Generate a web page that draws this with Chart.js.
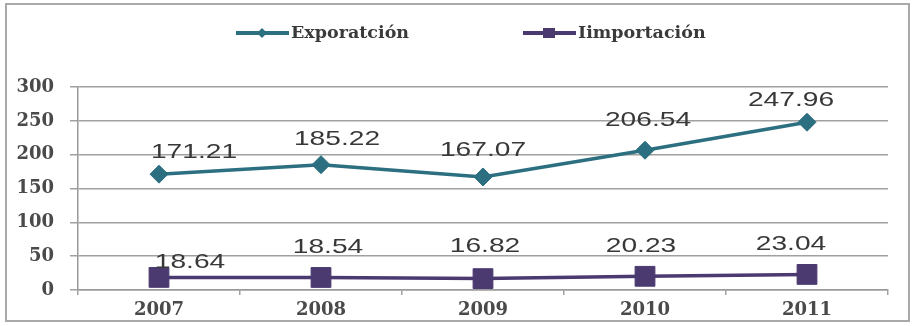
<!DOCTYPE html>
<html>
<head>
<meta charset="utf-8">
<script src="https://cdn.jsdelivr.net/npm/chart.js@4.4.1/dist/chart.umd.min.js"></script>
<style>
  html, body { margin: 0; padding: 0; background: #fff; }
  #wrap { width: 921px; height: 326px; }
</style>
</head>
<body>
<div id="wrap"><canvas id="c" width="921" height="326"></canvas></div>
<script>
const years = ['2007', '2008', '2009', '2010', '2011'];
const exportacion = [171.21, 185.22, 167.07, 206.54, 247.96];
const importacion = [18.64, 18.54, 16.82, 20.23, 23.04];
const seriesNames = ['Exporatción', 'Iimportación'];
const yTicks = [0, 50, 100, 150, 200, 250, 300];

const EXP_COLOR = '#2b6f80';
const IMP_COLOR = '#4a3a70';

// label nudges (styling only), [dx, dy] from each point to label centre
const labelNudge = [
  [[35, -22], [16, -25], [0, -27], [3, -30], [-16, -22]],
  [[31, -15], [7, -30], [2, -32], [-4, -30], [-16, -30]]
];

const framePlugin = {
  id: 'frame',
  beforeDraw(chart) {
    const ctx = chart.ctx;
    ctx.save();
    ctx.fillStyle = '#fff';
    ctx.fillRect(0, 0, chart.width, chart.height);
    ctx.strokeStyle = '#a9a9a9';
    ctx.lineWidth = 2;
    ctx.strokeRect(6, 4, 903, 317);
    ctx.restore();
  }
};

const legendPlugin = {
  id: 'customLegend',
  afterDraw(chart) {
    const ctx = chart.ctx;
    const items = [
      { x: 236, color: EXP_COLOR, style: 'diamond' },
      { x: 523, color: IMP_COLOR, style: 'square' }
    ];
    const y = 33;
    ctx.save();
    items.forEach((it, i) => {
      ctx.strokeStyle = it.color;
      ctx.lineWidth = 4;
      ctx.beginPath();
      ctx.moveTo(it.x, y);
      ctx.lineTo(it.x + 53, y);
      ctx.stroke();
      ctx.fillStyle = it.color;
      const cx = it.x + 26;
      ctx.beginPath();
      if (it.style === 'diamond') {
        ctx.moveTo(cx - 5, y); ctx.lineTo(cx, y - 5); ctx.lineTo(cx + 5, y); ctx.lineTo(cx, y + 5);
      } else {
        ctx.rect(cx - 6, y - 5, 12, 10);
      }
      ctx.closePath();
      ctx.fill();
      ctx.fillStyle = '#3a3a3a';
      ctx.font = 'bold 17.5px "DejaVu Serif"';
      ctx.textBaseline = 'middle';
      ctx.textAlign = 'left';
      ctx.fillText(chart.data.datasets[i].label, it.x + 55, y);
    });
    ctx.restore();
  }
};

const valueLabelPlugin = {
  id: 'valueLabels',
  afterDatasetsDraw(chart) {
    const ctx = chart.ctx;
    ctx.save();
    ctx.font = '21px "Liberation Sans", Arial, sans-serif';
    ctx.fillStyle = '#383838';
    ctx.textAlign = 'center';
    ctx.textBaseline = 'middle';
    const sx = 1.34;
    chart.data.datasets.forEach((ds, di) => {
      const meta = chart.getDatasetMeta(di);
      meta.data.forEach((pt, i) => {
        const n = labelNudge[di][i];
        const cx = pt.x + n[0];
        const cy = pt.y + n[1];
        ctx.save();
        ctx.translate(cx, cy);
        ctx.scale(sx, 1);
        ctx.fillText(ds.data[i].toFixed(2), 0, 0);
        ctx.restore();
      });
    });
    ctx.restore();
  }
};

new Chart(document.getElementById('c'), {
  type: 'line',
  data: {
    labels: years,
    datasets: [
      {
        label: seriesNames[0],
        data: exportacion,
        borderColor: EXP_COLOR,
        backgroundColor: EXP_COLOR,
        borderWidth: 3.5,
        pointStyle: 'rectRot',
        pointRadius: 9,
        pointBorderWidth: 1,
        tension: 0
      },
      {
        label: seriesNames[1],
        data: importacion,
        borderColor: IMP_COLOR,
        backgroundColor: IMP_COLOR,
        borderWidth: 3.5,
        pointStyle: 'rect',
        pointRadius: 14,
        pointBorderWidth: 1,
        tension: 0
      }
    ]
  },
  options: {
    responsive: false,
    animation: false,
    layout: { padding: { left: 8, right: 33, top: 87, bottom: 0 } },
    plugins: {
      legend: { display: false },
      tooltip: { enabled: false }
    },
    scales: {
      x: {
        offset: true,
        grid: { display: true, drawOnChartArea: false, drawTicks: true, tickLength: 5, color: '#a0a0a0', lineWidth: 1.5, offset: true },
        border: { display: true, color: '#9a9a9a', width: 1.5 },
        ticks: { padding: 5, color: '#4a4a4a', font: { family: '"DejaVu Serif"', weight: 'bold', size: 18 } },
        afterFit(s) { s.height = 36; }
      },
      y: {
        min: 0,
        max: 300,
        afterBuildTicks(s) { s.ticks = yTicks.map(v => ({ value: v })); },
        grid: { color: '#a0a0a0', lineWidth: 1.5, tickLength: 8 },
        border: { display: true, color: '#9a9a9a', width: 1.5 },
        ticks: { padding: 16, color: '#4a4a4a', font: { family: '"DejaVu Serif"', weight: 'bold', size: 18 } },
        afterFit(s) { s.width = 70; }
      }
    }
  },
  plugins: [framePlugin, legendPlugin, valueLabelPlugin]
});
</script>
</body>
</html>
